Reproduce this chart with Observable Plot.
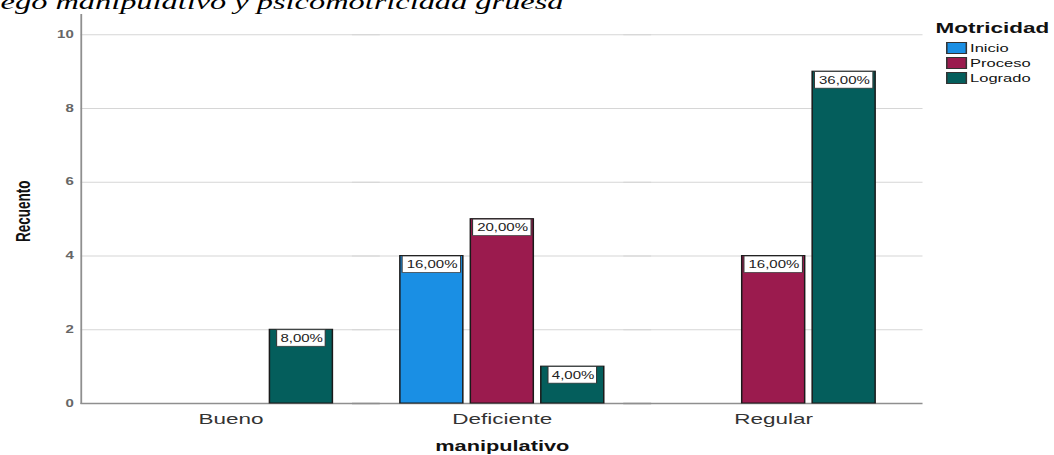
<!DOCTYPE html>
<html>
<head>
<meta charset="utf-8">
<script src="https://cdn.jsdelivr.net/npm/d3@7"></script>
<script src="https://cdn.jsdelivr.net/npm/@observablehq/plot@0.6"></script>
<style>
  html, body { margin: 0; padding: 0; background: #fff; overflow: hidden; }
  #stage { position: relative; width: 703px; height: 455px; transform: scale(1.4993, 1); transform-origin: 0 0;
           font-family: 'Liberation Sans', Arial, sans-serif; }
  #title { position: absolute; left: -20px; top: -8.5px; font: italic 21.6px/21.6px 'Liberation Serif', 'Times New Roman', serif;
           white-space: nowrap; color: #000; }
  #chart { position: absolute; left: 0; top: 0; }
  #legend { position: absolute; left: 624px; top: 20px; color: #111; }
  #legend .lt { font-weight: bold; font-size: 15px; line-height: 15px; margin-bottom: 5px; }
  #legend .row { display: flex; align-items: center; height: 15px; margin-left: 7px; font-size: 11px; }
  #legend .sw { width: 12px; height: 10px; border: 0.5px solid #333; margin-right: 2px; }
</style>
</head>
<body>
<div id="stage">
  <div id="title">Juego manipulativo y psicomotricidad gruesa</div>
  <div id="chart"></div>
  <div id="legend"></div>
</div>
<script>
const categories = ["Bueno", "Deficiente", "Regular"];
const series = ["Inicio", "Proceso", "Logrado"];
const colors = ["#1a8fe4", "#9b1b4e", "#045e5c"];
const inicio = [0, 4, 0];
const proceso = [0, 5, 4];
const logrado = [2, 1, 9];
const total = 25;
const yTicks = [0, 2, 4, 6, 8, 10];
const legendTitle = "Motricidad";
const xTitle = "manipulativo";
const yTitle = "Recuento";

const counts = [inicio, proceso, logrado];
const data = [];
series.forEach((s, si) => categories.forEach((c, ci) => {
  const v = counts[si][ci];
  if (v > 0) data.push({cat: c, series: s, value: v, label: (v / total * 100).toFixed(2).replace(".", ",") + "%"});
}));
const longLabels = data.filter(d => d.label.length >= 6);
const shortLabels = data.filter(d => d.label.length < 6);

const outer = 9.3; // axis overhang beyond the outer facets

const chart = Plot.plot({
  width: 703,
  height: 455,
  marginLeft: 62.3,
  marginRight: 97.3,
  marginTop: 14,
  marginBottom: 52,
  style: {fontFamily: "'Liberation Sans', Arial, sans-serif", background: "transparent", color: "#111", overflow: "visible"},
  fx: {domain: categories, padding: 0, label: null},
  x: {domain: series, paddingInner: 0.11, paddingOuter: 0.46, axis: null},
  y: {domain: [0, 10.55]},
  color: {domain: series, range: colors},
  marks: [
    Plot.ruleY(yTicks.filter(t => t > 0), {stroke: "#d6d6d6", strokeWidth: 1, insetLeft: -outer, insetRight: -outer}),
    Plot.ruleY([0], {stroke: "#8f8f8f", strokeWidth: 1.4, insetLeft: -outer, insetRight: -outer}),
    Plot.frame({anchor: "left", fx: categories[0], insetLeft: -outer, stroke: "#8f8f8f", strokeWidth: 1.2}),
    Plot.axisY({ticks: yTicks, tickSize: 0, tickPadding: 5 + outer, label: null, fontSize: 10, fontWeight: "bold", fill: "#666"}),
    Plot.axisFx({anchor: "bottom", tickSize: 0, tickPadding: 10, label: null, fontSize: 15, fill: "#333"}),
    Plot.barY(data, {fx: "cat", x: "series", y: "value", fill: "series", stroke: "#1a1a1a", strokeWidth: 1}),
    Plot.barY(longLabels, {fx: "cat", x: "series", y1: "value", y2: "value", insetLeft: 1.5, insetRight: 1.5, insetTop: 0.5, insetBottom: -17, fill: "white", stroke: "#333", strokeWidth: 0.7}),
    Plot.barY(shortLabels, {fx: "cat", x: "series", y1: "value", y2: "value", insetLeft: 4.8, insetRight: 4.8, insetTop: 0.5, insetBottom: -17, fill: "white", stroke: "#333", strokeWidth: 0.7}),
    Plot.text(data, {fx: "cat", x: "series", y: "value", text: "label", dy: 9, fontSize: 10, fill: "#222"}),
    Plot.text([yTitle], {facet: "super", frameAnchor: "left", dx: -47.6, dy: 33, rotate: -90, fontSize: 13.5, fontWeight: "bold", fill: "#111"}),
    Plot.text([xTitle], {facet: "super", frameAnchor: "bottom", dy: 47.5, fontSize: 14.5, fontWeight: "bold", fill: "#111"})
  ]
});
document.getElementById("chart").appendChild(chart);

const legend = document.getElementById("legend");
const lt = document.createElement("div");
lt.className = "lt";
lt.textContent = legendTitle;
legend.appendChild(lt);
series.forEach((s, i) => {
  const row = document.createElement("div");
  row.className = "row";
  const sw = document.createElement("div");
  sw.className = "sw";
  sw.style.background = colors[i];
  const t = document.createElement("span");
  t.textContent = s;
  row.appendChild(sw);
  row.appendChild(t);
  legend.appendChild(row);
});
</script>
</body>
</html>
